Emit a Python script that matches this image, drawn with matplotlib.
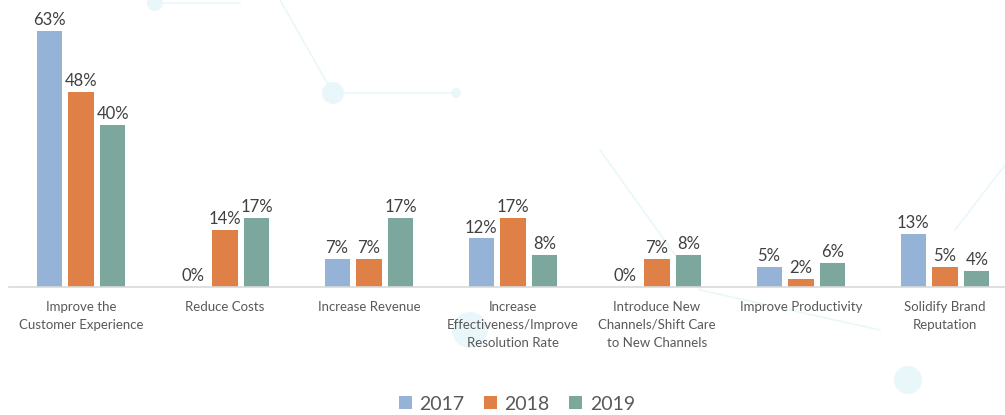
import matplotlib.pyplot as plt
import numpy as np
from matplotlib.patches import Circle

categories = ["Improve the\nCustomer Experience", "Reduce Costs", "Increase Revenue",
              "Increase\nEffectiveness/Improve\nResolution Rate",
              "Introduce New\nChannels/Shift Care\nto New Channels",
              "Improve Productivity", "Solidify Brand\nReputation"]
years = ["2017", "2018", "2019"]
v2017 = [63, 0, 7, 12, 0, 5, 13]
v2018 = [48, 14, 7, 17, 7, 2, 5]
v2019 = [40, 17, 17, 8, 8, 6, 4]
colors = ["#95B3D7", "#DF8047", "#7BA79C"]

plt.rcParams['font.family'] = ['Lato', 'DejaVu Sans']

W, H = 1005, 415
fig = plt.figure(figsize=(W / 100, H / 100), dpi=100)

# faint background decoration, in pixel units
bg = fig.add_axes([0, 0, 1, 1], zorder=0)
bg.set_xlim(0, W)
bg.set_ylim(H, 0)
bg.axis("off")
deco = "#EAF7FA"
for (x0, y0, x1, y1) in [(155, 3, 240, 3), (280, 0, 333, 93), (333, 93, 456, 93),
                         (600, 150, 700, 290), (700, 290, 880, 330),
                         (955, 230, 1005, 165)]:
    bg.plot([x0, x1], [y0, y1], color=deco, lw=1.2)
for (cx, cy, r) in [(155, 3, 8), (333, 93, 11), (456, 93, 5), (908, 380, 14), (470, 330, 18)]:
    bg.add_patch(Circle((cx, cy), r, color=deco, lw=0))

ax = fig.add_axes([9 / W, 128 / H, 1008 / W, 287 / H], zorder=1)
ax.patch.set_alpha(0)

x = np.arange(len(categories))
bw = 0.174
step = 0.222
for i, (vals, c, lab) in enumerate(zip([v2017, v2018, v2019], colors, years)):
    bars = ax.bar(x + (i - 1) * step, vals, bw, color=c, label=lab, zorder=2)
    ax.bar_label(bars, labels=[f"{v}%" for v in vals], padding=2, fontsize=12, color="#404040")

ax.set_xlim(-0.5, len(categories) - 0.5)
ax.set_ylim(0, 70.7)
ax.set_yticks([])
ax.set_xticks(x)
ax.set_xticklabels(categories, fontsize=9.5, color="#595959", linespacing=1.6)
ax.tick_params(axis='x', length=0, pad=10)
for s in ["top", "right", "left"]:
    ax.spines[s].set_visible(False)
ax.spines["bottom"].set_color("#D9D9D9")
ax.spines["bottom"].set_linewidth(1.2)

fig.legend(loc="center", bbox_to_anchor=(517 / W, 1 - 404 / H), ncol=3, frameon=False,
           fontsize=14, handlelength=0.65, handleheight=0.65, handletextpad=0.4,
           columnspacing=1.0, labelcolor="#595959")

fig.savefig("out.png", dpi=100)
